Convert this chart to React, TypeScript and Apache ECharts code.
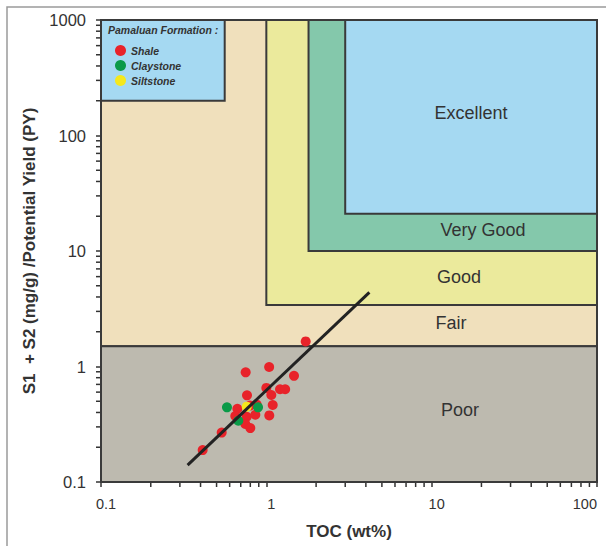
import React, { useEffect, useRef } from 'react';
import * as echarts from 'echarts';

// Sample data (TOC wt%, S1+S2 mg/g)
const shaleToc = [1.73, 1.04, 0.75, 1.47, 1.0, 1.21, 1.3, 0.764, 1.072, 1.093, 0.875, 0.668, 0.797, 0.858, 1.042, 0.649, 0.761, 0.746, 0.8, 0.537, 0.412];
const shalePy = [1.65, 0.99, 0.89, 0.83, 0.653, 0.635, 0.635, 0.563, 0.567, 0.464, 0.467, 0.431, 0.459, 0.382, 0.377, 0.373, 0.367, 0.318, 0.293, 0.268, 0.189];
const clayToc = [0.578, 0.891, 0.677];
const clayPy = [0.443, 0.443, 0.339];
const siltToc = [0.761];
const siltPy = [0.449];

// Trend line end points
const trendToc = [0.334, 4.2];
const trendPy = [0.14, 4.38];

// Classification regions
const regionNames = ['Fair', 'Poor', 'Good', 'Very Good', 'Excellent', 'Legend'];
const regionTocMin = [0.1, 0.1, 1, 1.8, 3, 0.1];
const regionTocMax = [100, 100, 100, 100, 100, 0.56];
const regionPyMin = [1.5, 0.1, 3.4, 10, 21, 200];
const regionPyMax = [1000, 1.5, 1000, 1000, 1000, 1000];
const regionColors = ['#f0e0bc', '#bdbaaf', '#ebea9c', '#84c8ab', '#a5d9f2', '#a5d9f2'];

// Axis ticks
const xMinorTicks = [0.2, 0.3, 0.4, 0.5, 0.6, 0.7, 0.8, 0.9, 2, 3, 4, 5, 6, 7, 8, 9, 20, 30, 40, 50, 60, 70, 80, 90];
const yMinorTicks = [0.2, 0.3, 0.4, 0.5, 0.6, 0.7, 0.8, 0.9, 2, 3, 4, 5, 6, 7, 8, 9, 20, 30, 40, 50, 60, 70, 80, 90, 200, 300, 400, 500, 600, 700, 800, 900];

const FONT = '"Liberation Sans", Arial, sans-serif';

export default function App() {
  const ref = useRef<HTMLDivElement>(null);
  useEffect(() => {
    document.body.style.margin = '0';
    const chart = echarts.init(ref.current!, undefined, { renderer: 'svg' });
    const pairs = (xs: number[], ys: number[]) => xs.map((x, i) => [x, ys[i]]);
    const fmt = (v: number) => String(+Number(v).toPrecision(3));

    const option: any = {
      animation: false,
      textStyle: { fontFamily: FONT },
      grid: { left: 101, right: 9, top: 20, bottom: 64, show: false },
      xAxis: {
        type: 'log', logBase: 10, min: 0.1, max: 100,
        name: 'TOC (wt%)', nameLocation: 'middle', nameGap: 41,
        nameTextStyle: { fontSize: 17, fontWeight: 'bold', color: '#333', fontFamily: FONT },
        axisLine: { show: true, lineStyle: { color: '#333', width: 2 } },
        axisTick: { show: true, length: 5, lineStyle: { color: '#333', width: 1.5 } },
        axisLabel: { fontSize: 14.5, color: '#333', margin: 14, padding: [0, 0, 0, 10], formatter: fmt, showMinLabel: true, showMaxLabel: true, alignMaxLabel: 'right', fontFamily: FONT },
        splitLine: { show: false },
      },
      yAxis: {
        type: 'log', logBase: 10, min: 0.1, max: 1000,
        name: 'S1  + S2 (mg/g) /Potential Yield (PY)', nameLocation: 'middle', nameGap: 60, nameRotate: 90,
        nameTextStyle: { fontSize: 17, fontWeight: 'bold', color: '#333', fontFamily: FONT },
        axisLine: { show: true, lineStyle: { color: '#333', width: 2 } },
        axisTick: { show: true, length: 5, lineStyle: { color: '#333', width: 1.5 } },
        axisLabel: { fontSize: 16.5, color: '#333', margin: 15, formatter: fmt, showMinLabel: true, showMaxLabel: true, fontFamily: FONT },
        splitLine: { show: false },
      },
      legend: {
        orient: 'vertical', left: 110, top: 40, z: 10,
        itemWidth: 11, itemHeight: 11, itemGap: 4,
        data: ['Shale', 'Claystone', 'Siltstone'],
        textStyle: { fontSize: 10.5, fontWeight: 'bold', fontStyle: 'italic', color: '#333', fontFamily: FONT },
        selectedMode: false,
      },
      graphic: [
        { type: 'rect', z: 100, shape: { x: 7, y: 7, width: 800, height: 800 }, style: { fill: 'none', stroke: '#9a9a9a', lineWidth: 1.5 } },
        { type: 'text', z: 100, x: 108, y: 30, style: { text: 'Pamaluan Formation :', fill: '#333', font: `italic bold 10.5px ${FONT}`, align: 'left', verticalAlign: 'middle' } },
        { type: 'text', z: 100, x: 471, y: 113, style: { text: 'Excellent', fill: '#333', font: `18px ${FONT}`, align: 'center', verticalAlign: 'middle' } },
        { type: 'text', z: 100, x: 483, y: 230, style: { text: 'Very Good', fill: '#333', font: `18px ${FONT}`, align: 'center', verticalAlign: 'middle' } },
        { type: 'text', z: 100, x: 459, y: 277, style: { text: 'Good', fill: '#333', font: `18px ${FONT}`, align: 'center', verticalAlign: 'middle' } },
        { type: 'text', z: 100, x: 451, y: 323, style: { text: 'Fair', fill: '#333', font: `18px ${FONT}`, align: 'center', verticalAlign: 'middle' } },
        { type: 'text', z: 100, x: 460, y: 410, style: { text: 'Poor', fill: '#333', font: `18px ${FONT}`, align: 'center', verticalAlign: 'middle' } },
      ],
      series: [
        {
          type: 'scatter', data: [], silent: true, z: 1,
          markArea: {
            silent: true,
            data: regionNames.map((n, i) => [
              { name: n, xAxis: regionTocMin[i], yAxis: regionPyMin[i], itemStyle: { color: regionColors[i], borderColor: '#3a3a3a', borderWidth: 2 } },
              { xAxis: regionTocMax[i], yAxis: regionPyMax[i] },
            ]),
            label: { show: false },
          },
        },
        { name: 'Shale', type: 'scatter', symbol: 'circle', symbolSize: 10, z: 3, itemStyle: { color: '#e8232a', opacity: 1 }, data: pairs(shaleToc, shalePy) },
        { name: 'Claystone', type: 'scatter', symbol: 'circle', symbolSize: 10, z: 3, itemStyle: { color: '#0a9a48', opacity: 1 }, data: pairs(clayToc, clayPy) },
        { name: 'Siltstone', type: 'scatter', symbol: 'circle', symbolSize: 10, z: 3, itemStyle: { color: '#f5e81c', opacity: 1 }, data: pairs(siltToc, siltPy) },
        { type: 'line', symbol: 'none', z: 4, silent: true, lineStyle: { color: '#222', width: 3 }, data: pairs(trendToc, trendPy) },
        {
          type: 'custom', coordinateSystem: 'cartesian2d', silent: true, clip: false, z: 5,
          data: xMinorTicks.map((v) => [v, 0.1, 0]).concat(yMinorTicks.map((v) => [0.1, v, 1])),
          renderItem: (params: any, api: any) => {
            const p = api.coord([api.value(0), api.value(1)]);
            const isY = api.value(2) === 1;
            const shape = isY
              ? { x1: p[0] - 5, y1: p[1], x2: p[0] - 1, y2: p[1] }
              : { x1: p[0], y1: p[1] + 1, x2: p[0], y2: p[1] + 5 };
            return { type: 'line', shape, style: { stroke: '#333', lineWidth: 1.5 } };
          },
        },
      ],
    };
    chart.setOption(option);
    return () => chart.dispose();
  }, []);
  return <div ref={ref} style={{ width: 606, height: 546 }} />;
}
